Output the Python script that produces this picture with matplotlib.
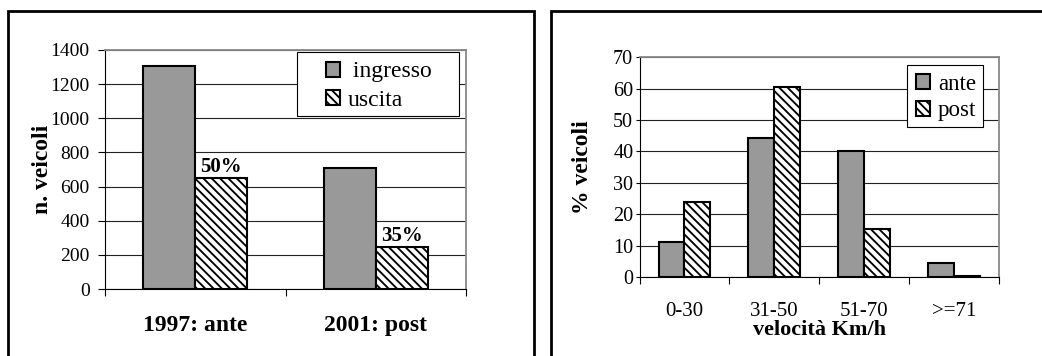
import matplotlib
matplotlib.use("Agg")
import matplotlib.pyplot as plt
from matplotlib.lines import Line2D
from matplotlib.patches import Rectangle
import numpy as np

# ---- data ----
years = ["1997: ante", "2001: post"]
ingresso = [1305, 710]
uscita = [653, 245]
uscita_pct = ["50%", "35%"]

speed_classes = ["0-30", "31-50", "51-70", ">=71"]
ante = [11.0, 44.4, 40.0, 4.4]
post = [23.9, 60.4, 15.4, 0.3]

plt.rcParams['font.family'] = ['Liberation Serif', 'DejaVu Serif']
plt.rcParams['hatch.linewidth'] = 1.35
plt.rcParams['hatch.color'] = 'black'

W, H = 1042, 356
fig = plt.figure(figsize=(W / 100, H / 100), dpi=100)

GRAY = '#999999'
HATCH = '\\\\\\\\'


def fx(px):
    return px / W


def fy(py):
    return 1 - py / H


def style_axes(ax, n, ymax, ystep, ytick_fs, ylen, ypad):
    ax.set_xlim(-0.5, n - 0.5)
    ax.set_ylim(0, ymax)
    ax.set_yticks(np.arange(0, ymax + 1, ystep))
    ax.yaxis.grid(True, color='#222222', linewidth=0.8)
    ax.set_axisbelow(True)
    for s in ['top', 'right']:
        ax.spines[s].set_color('#888888')
        ax.spines[s].set_linewidth(1.3)
    for s in ['left', 'bottom']:
        ax.spines[s].set_color('black')
        ax.spines[s].set_linewidth(0.8)
    ax.set_xticks(np.arange(n))
    ax.set_xticks(np.arange(-0.5, n, 1.0), minor=True)
    ax.tick_params(axis='x', which='major', length=0)
    ax.tick_params(axis='x', which='minor', length=5, width=0.8, direction='out')
    ax.tick_params(axis='y', length=ylen, width=0.8, direction='out', labelsize=ytick_fs, pad=ypad)


def legend_box(ax, x0, x1, y0, y1):
    r = Rectangle((x0, y0), x1 - x0, y1 - y0, transform=ax.transAxes, facecolor='white',
                  edgecolor='black', linewidth=0.8, zorder=4, clip_on=False)
    ax.add_patch(r)


# ---- left chart ----
L0, L1, LT, LB = 105, 466, 50, 289
ax1 = fig.add_axes([fx(L0), fy(LB), fx(L1 - L0), (LB - LT) / H])
x = np.arange(len(years))
bw = 0.288
ax1.bar(x - bw / 2, ingresso, bw, color=GRAY, edgecolor='black', linewidth=1.5, label=' ingresso', zorder=2)
ax1.bar(x + bw / 2, uscita, bw, color='white', edgecolor='black', linewidth=1.5, hatch=HATCH, label='uscita', zorder=2)
style_axes(ax1, len(years), 1400, 200, 14, 5, 6)
ax1.tick_params(axis='x', which='major', pad=19)
ax1.set_xticklabels(years, fontsize=17, fontweight='bold')
ax1.set_ylabel("n. veicoli", fontsize=17, fontweight='bold', va='center')
ax1.yaxis.set_label_coords((42 - L0) / (L1 - L0), 0.5)
for xi, v, t in zip(x, uscita, uscita_pct):
    ax1.text(xi + bw / 2, v + 5, t, ha='center', va='bottom', fontsize=15, fontweight='bold')
legend_box(ax1, (297 - L0) / (L1 - L0), (459 - L0) / (L1 - L0), (LB - 116) / (LB - LT), (LB - 52) / (LB - LT))
leg1 = ax1.legend(loc='center left', bbox_to_anchor=((326 - L0) / (L1 - L0), (LB - 86) / (LB - LT)),
                  fontsize=17, frameon=False, handlelength=0.6, handleheight=0.6,
                  handletextpad=0.3, borderpad=0, labelspacing=0.3, borderaxespad=0)
leg1.set_zorder(5)

# ---- right chart ----
R0, R1, RT, RB = 639.5, 999, 57.3, 277
ax2 = fig.add_axes([fx(R0), fy(RB), fx(R1 - R0), (RB - RT) / H])
x2 = np.arange(len(speed_classes))
ax2.bar(x2 - bw / 2, ante, bw, color=GRAY, edgecolor='black', linewidth=1.5, label='ante', zorder=2)
ax2.bar(x2 + bw / 2, post, bw, color='white', edgecolor='black', linewidth=1.5, hatch=HATCH, label='post', zorder=2)
style_axes(ax2, len(speed_classes), 70, 10, 14.5, 3, 1.5)
ax2.tick_params(axis='x', which='major', pad=18)
ax2.set_xticklabels(speed_classes, fontsize=15)
ax2.set_xlabel("velocità Km/h", fontsize=16, fontweight='bold', labelpad=-1)
ax2.set_ylabel("% veicoli", fontsize=17, fontweight='bold', va='center')
ax2.yaxis.set_label_coords((582 - R0) / (R1 - R0), 0.5)
legend_box(ax2, (907 - R0) / (R1 - R0), (982.5 - R0) / (R1 - R0), (RB - 127) / (RB - RT), (RB - 65) / (RB - RT))
leg2 = ax2.legend(loc='center left', bbox_to_anchor=((916 - R0) / (R1 - R0), (RB - 97.5) / (RB - RT)),
                  fontsize=16.5, frameon=False, handlelength=0.6, handleheight=0.6,
                  handletextpad=0.35, borderpad=0, labelspacing=0.25, borderaxespad=0)
leg2.set_zorder(5)

# ---- panel borders ----
lw = 2.0
for xs, ys in [
    ([8, 8, 534, 534], [H + 5, 11, 11, H + 5]),
    ([551, 551, W + 5], [H + 5, 11, 11]),
]:
    fig.add_artist(Line2D([fx(v) for v in xs], [fy(v) for v in ys], color='black', linewidth=lw,
                          transform=fig.transFigure, solid_joinstyle='miter'))

fig.savefig("out.png", dpi=100)
